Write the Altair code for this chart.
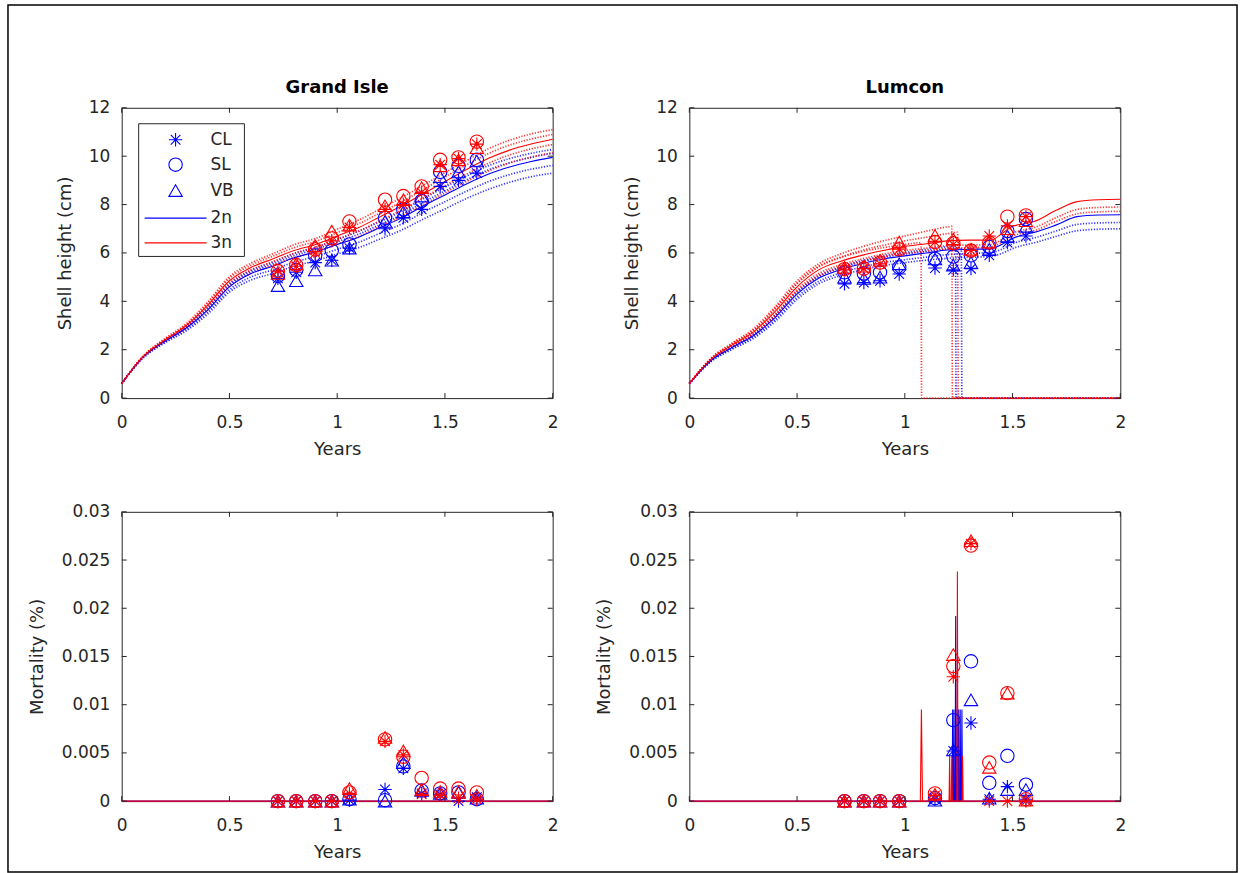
import altair as alt
import pandas as pd

BLUE, RED, AX = "#0000ff", "#ff0000", "#262626"
FONT = "DejaVu Sans"
STAR = "M-1,0L1,0M0,-1L0,1M-0.72,-0.72L0.72,0.72M-0.72,0.72L0.72,-0.72"
W, H_TOP, H_BOT = 432, 291, 290

PLOIDY = ["2n", "3n"]
MEASURES = ["CL", "SL", "VB"]
LEGEND_LABELS = ["CL", "SL", "VB", "2n", "3n"]
X_TICKS = [0, 0.5, 1, 1.5, 2]
H_TICKS = [0, 2, 4, 6, 8, 10, 12]
M_TICKS = [0, 0.005, 0.01, 0.015, 0.02, 0.025, 0.03]

# ---------------- Grand Isle model shell height ----------------
GI_X = [0.0, 0.1, 0.2, 0.3, 0.4, 0.5, 0.6, 0.7, 0.8, 0.9, 1.0, 1.1, 1.2, 1.3, 1.4, 1.5, 1.6, 1.7, 1.8, 1.9, 2.0]
GI_2N = [0.60, 1.70, 2.35, 2.90, 3.65, 4.60, 5.15, 5.45, 5.80, 6.05, 6.35, 6.65, 7.05, 7.45, 7.95, 8.40, 8.85, 9.25, 9.55, 9.78, 9.95]
GI_3N = [0.60, 1.72, 2.40, 3.00, 3.85, 4.85, 5.40, 5.75, 6.10, 6.35, 6.70, 7.05, 7.50, 7.95, 8.45, 8.95, 9.45, 9.90, 10.25, 10.50, 10.70]
GI_2N_A = [0.60, 1.66, 2.28, 2.78, 3.48, 4.38, 4.88, 5.15, 5.45, 5.68, 5.95, 6.22, 6.58, 6.95, 7.40, 7.82, 8.25, 8.62, 8.92, 9.15, 9.30]
GI_2N_B = [0.60, 1.68, 2.32, 2.84, 3.56, 4.48, 5.01, 5.30, 5.62, 5.86, 6.15, 6.44, 6.82, 7.20, 7.68, 8.12, 8.55, 8.94, 9.24, 9.46, 9.62]
GI_2N_C = [0.60, 1.72, 2.40, 2.96, 3.75, 4.72, 5.28, 5.60, 5.98, 6.24, 6.56, 6.90, 7.30, 7.72, 8.24, 8.72, 9.18, 9.60, 9.90, 10.12, 10.28]
GI_2N_D = [0.60, 1.71, 2.38, 2.93, 3.70, 4.66, 5.22, 5.53, 5.89, 6.15, 6.46, 6.78, 7.18, 7.59, 8.10, 8.56, 9.02, 9.43, 9.73, 9.95, 10.12]
GI_3N_A = [0.60, 1.69, 2.34, 2.90, 3.68, 4.62, 5.15, 5.48, 5.80, 6.04, 6.36, 6.68, 7.10, 7.52, 8.00, 8.48, 8.95, 9.38, 9.72, 9.96, 10.15]
GI_3N_B = [0.60, 1.71, 2.38, 2.96, 3.78, 4.75, 5.30, 5.64, 5.98, 6.22, 6.56, 6.90, 7.34, 7.78, 8.28, 8.78, 9.26, 9.70, 10.05, 10.30, 10.48]
GI_3N_C = [0.60, 1.75, 2.46, 3.08, 3.98, 5.02, 5.58, 5.96, 6.34, 6.60, 6.98, 7.36, 7.82, 8.30, 8.80, 9.32, 9.82, 10.30, 10.66, 10.92, 11.10]
GI_3N_D = [0.60, 1.73, 2.43, 3.04, 3.92, 4.94, 5.49, 5.86, 6.22, 6.48, 6.84, 7.21, 7.66, 8.12, 8.62, 9.14, 9.64, 10.10, 10.46, 10.71, 10.90]

# ---------------- Lumcon model shell height ----------------
LU_X = [0.0, 0.1, 0.2, 0.3, 0.4, 0.5, 0.6, 0.7, 0.8, 0.9, 1.0, 1.1, 1.2, 1.3, 1.4, 1.45, 1.5, 1.55, 1.6, 1.7, 1.8, 1.9, 2.0]
LU_2N = [0.60, 1.55, 2.10, 2.60, 3.35, 4.30, 4.95, 5.30, 5.55, 5.75, 5.88, 6.00, 6.12, 6.15, 6.17, 6.35, 6.60, 6.75, 6.85, 7.15, 7.50, 7.57, 7.58]
LU_3N = [0.60, 1.60, 2.20, 2.75, 3.60, 4.60, 5.30, 5.65, 5.90, 6.10, 6.27, 6.38, 6.50, 6.53, 6.53, 6.80, 7.10, 7.20, 7.30, 7.75, 8.12, 8.20, 8.22]
LU_2N_A = [0.60, 1.50, 2.02, 2.48, 3.18, 4.08, 4.72, 5.06, 5.30, 5.48, 5.60, 5.70, 5.78, 5.82, 5.86, 5.98, 6.18, 6.32, 6.42, 6.68, 6.92, 6.98, 7.00]
LU_2N_B = [0.60, 1.52, 2.06, 2.54, 3.26, 4.18, 4.82, 5.17, 5.42, 5.60, 5.72, 5.83, 5.93, 5.98, 6.02, 6.15, 6.38, 6.52, 6.62, 6.90, 7.18, 7.24, 7.26]
LU_3N_A = [0.60, 1.57, 2.15, 2.68, 3.50, 4.48, 5.15, 5.50, 5.75, 5.95, 6.10, 6.20, 6.30, 6.33, 6.35, 6.55, 6.82, 6.95, 7.05, 7.45, 7.80, 7.88, 7.90]
LU_3N_B = [0.60, 1.55, 2.12, 2.64, 3.42, 4.40, 5.05, 5.40, 5.65, 5.85, 5.98, 6.08, 6.18, 6.22, 6.25, 6.42, 6.70, 6.82, 6.92, 7.30, 7.62, 7.70, 7.72]
# members that die (height drops to zero)
LU_2N_D1_X = [0.0, 0.1, 0.2, 0.3, 0.4, 0.5, 0.6, 0.7, 0.8, 0.9, 1.0, 1.1, 1.2, 1.235, 1.238, 2.0]
LU_2N_D1_Y = [0.60, 1.58, 2.15, 2.66, 3.44, 4.40, 5.06, 5.42, 5.68, 5.88, 6.02, 6.14, 6.26, 6.30, 0.0, 0.0]
LU_2N_D2_X = [0.0, 0.1, 0.2, 0.3, 0.4, 0.5, 0.6, 0.7, 0.8, 0.9, 1.0, 1.1, 1.2, 1.262, 1.265, 2.0]
LU_2N_D2_Y = [0.60, 1.56, 2.12, 2.62, 3.40, 4.35, 5.00, 5.36, 5.62, 5.82, 5.95, 6.06, 6.16, 6.22, 0.0, 0.0]
LU_3N_D1_X = [0.0, 0.1, 0.2, 0.3, 0.4, 0.5, 0.6, 0.7, 0.8, 0.9, 1.0, 1.075, 1.078, 2.0]
LU_3N_D1_Y = [0.60, 1.62, 2.24, 2.80, 3.70, 4.72, 5.42, 5.80, 6.05, 6.22, 6.35, 6.42, 0.0, 0.0]
LU_3N_D2_X = [0.0, 0.1, 0.2, 0.3, 0.4, 0.5, 0.6, 0.7, 0.8, 0.9, 1.0, 1.1, 1.2, 1.218, 1.221, 2.0]
LU_3N_D2_Y = [0.60, 1.65, 2.28, 2.88, 3.80, 4.85, 5.55, 5.95, 6.25, 6.50, 6.70, 6.90, 7.08, 7.10, 0.0, 0.0]
LU_3N_D3_X = [0.0, 0.1, 0.2, 0.3, 0.4, 0.5, 0.6, 0.7, 0.8, 0.9, 1.0, 1.1, 1.2, 1.245, 1.248, 2.0]
LU_3N_D3_Y = [0.60, 1.63, 2.25, 2.82, 3.72, 4.75, 5.45, 5.82, 6.10, 6.32, 6.50, 6.65, 6.80, 6.85, 0.0, 0.0]

# ---------------- model mortality ----------------
MORT_X = [0.0, 2.0]
MORT_ZERO = [0.0, 0.0]
LU_M2N_T = [1.222, 1.228, 1.236, 1.243, 1.250, 1.257, 1.265]
LU_M2N_H = [0.0095, 0.0095, 0.0192, 0.0095, 0.0095, 0.0095, 0.0095]
LU_M3N_T = [1.077, 1.208, 1.218, 1.244, 1.268]
LU_M3N_H = [0.0095, 0.0047, 0.0047, 0.0238, 0.0047]

# ---------------- observations ----------------
GI_T = [0.725, 0.81, 0.898, 0.975, 1.057, 1.222, 1.307, 1.392, 1.478, 1.563, 1.648]
GI_H = {
    "2n": {"CL": [4.95, 5.20, 5.60, 5.70, 6.20, 7.00, 7.45, 7.80, 8.75, 9.00, 9.30],
           "SL": [5.05, 5.30, 5.90, 6.10, 6.35, 7.45, 7.80, 8.15, 9.35, 9.60, 9.85],
           "VB": [4.65, 4.85, 5.30, 5.70, 6.20, 7.30, 7.70, 8.35, 9.15, 9.35, 9.80]},
    "3n": {"CL": [5.25, 5.45, 6.00, 6.50, 7.05, 7.80, 8.00, 8.50, 9.65, 9.90, 10.50],
           "SL": [5.25, 5.50, 6.15, 6.60, 7.30, 8.20, 8.35, 8.75, 9.85, 9.95, 10.60],
           "VB": [5.15, 5.55, 6.30, 6.90, 7.15, 7.95, 8.20, 8.70, 9.60, 9.85, 10.35]},
}
GI_M = {
    "2n": {"CL": [0, 0, 0, 0, 0.0001, 0.0012, 0.0034, 0.0008, 0.0007, 0.0, 0.0004],
           "SL": [0, 0, 0, 0, 0.0002, 0.0001, 0.0036, 0.0011, 0.0008, 0.0009, 0.0002],
           "VB": [0, 0, 0, 0, 0.0002, 0.0, 0.0040, 0.0011, 0.0008, 0.0009, 0.0003]},
    "3n": {"CL": [0, 0, 0, 0, 0.0008, 0.0062, 0.0048, 0.0007, 0.0006, 0.0003, 0.0002],
           "SL": [0, 0, 0, 0, 0.0009, 0.0064, 0.0046, 0.0024, 0.0013, 0.0013, 0.0009],
           "VB": [0, 0, 0, 0, 0.0013, 0.0066, 0.0052, 0.0012, 0.0010, 0.0010, 0.0006]},
}
LU_T = [0.72, 0.81, 0.885, 0.974, 1.14, 1.225, 1.307, 1.392, 1.476, 1.562]
LU_H = {
    "2n": {"CL": [4.72, 4.78, 4.85, 5.13, 5.38, 5.30, 5.35, 5.90, 6.43, 6.70],
           "SL": [5.20, 5.15, 5.20, 5.40, 5.75, 5.85, 5.90, 6.25, 6.90, 7.40],
           "VB": [5.00, 4.95, 5.00, 5.55, 5.75, 5.50, 5.60, 6.15, 6.70, 7.10]},
    "3n": {"CL": [5.30, 5.35, 5.55, 6.15, 6.45, 6.35, 6.10, 6.70, 7.12, 7.50],
           "SL": [5.33, 5.35, 5.60, 6.15, 6.45, 6.40, 6.10, 6.43, 7.50, 7.55],
           "VB": [5.40, 5.45, 5.70, 6.45, 6.72, 6.57, 6.15, 6.45, 7.00, 7.33]},
}
LU_M = {
    "2n": {"CL": [0, 0, 0, 0, 0.0002, 0.0052, 0.0081, 0.0002, 0.0015, 0.0002],
           "SL": [0, 0, 0, 0, 0.0003, 0.0084, 0.0145, 0.0019, 0.0047, 0.0017],
           "VB": [0, 0, 0, 0, 0.0001, 0.0053, 0.0105, 0.0003, 0.0012, 0.0012]},
    "3n": {"CL": [0, 0, 0, 0, 0.0006, 0.0129, 0.0267, 0.0, 0.0, 0.0],
           "SL": [0, 0, 0, 0, 0.0008, 0.0140, 0.0265, 0.0040, 0.0112, 0.0002],
           "VB": [0, 0, 0, 0, 0.0007, 0.0152, 0.0270, 0.0035, 0.0112, 0.0001]},
}


def series_df(items):
    rows = []
    for sid, xs, ys in items:
        for i, (x, y) in enumerate(zip(xs, ys)):
            rows.append({"sid": sid, "i": i, "x": x, "y": y})
    return pd.DataFrame(rows)


def spike_items(prefix, ts, hs, half, first_half=None):
    items = []
    for k, (t, h) in enumerate(zip(ts, hs)):
        w = first_half if (k == 0 and first_half) else half
        items.append((f"{prefix}{k}", [t - w, t, t + w], [0.0, h, 0.0]))
    return items


def markers_df(times, table):
    rows = []
    for p in PLOIDY:
        for m in MEASURES:
            for t, v in zip(times, table[p][m]):
                rows.append({"x": t, "y": v, "measure": m, "ploidy": p})
    return pd.DataFrame(rows)


def panel(line_layers, markers, ydom, yticks, ytitle, ytitle_pad, H, title=None, extra=(), smooth=True):
    xs = alt.Scale(domain=[0, 2], nice=False, zero=False)
    ys = alt.Scale(domain=ydom, nice=False, zero=False)
    xax = alt.Axis(values=X_TICKS, format="~g", title="Years", labelFlush=False,
                   labelOverlap=False, titlePadding=11, labelPadding=16)
    yax = alt.Axis(values=yticks, format="~g", title=ytitle, labelOverlap=False,
                   titlePadding=ytitle_pad, labelPadding=12)

    def X(f):
        return alt.X(f"{f}:Q", scale=xs, axis=xax)

    def Y(f):
        return alt.Y(f"{f}:Q", scale=ys, axis=yax)

    interp = "monotone" if smooth else "linear"
    out = []
    for df, color, dotted in line_layers:
        if dotted:
            mk = alt.Chart(df).mark_line(color=color, strokeWidth=1.7, strokeDash=[1.2, 1.6],
                                         opacity=0.8, interpolate=interp)
        else:
            mk = alt.Chart(df).mark_line(color=color, strokeWidth=1.1, interpolate=interp)
        out.append(mk.encode(x=X("x"), y=Y("y"), detail="sid:N", order="i:Q"))

    shape = alt.Shape("measure:N", scale=alt.Scale(domain=MEASURES, range=[STAR, "circle", "triangle-up"]), legend=None)
    col = alt.Color("ploidy:N", scale=alt.Scale(domain=PLOIDY, range=[BLUE, RED]), legend=None)
    out.append(alt.Chart(markers).mark_point(filled=False, size=180, strokeWidth=1.1, opacity=1)
               .encode(x=X("x"), y=Y("y"), shape=shape, color=col))

    xt = pd.DataFrame({"v": X_TICKS})
    yt = pd.DataFrame({"v": yticks})
    out += [
        alt.Chart(xt).mark_rule(color=AX, strokeWidth=1).encode(x=X("v"), y=alt.value(H), y2=alt.value(H - 5)),
        alt.Chart(xt).mark_rule(color=AX, strokeWidth=1).encode(x=X("v"), y=alt.value(0), y2=alt.value(5)),
        alt.Chart(yt).mark_rule(color=AX, strokeWidth=1).encode(y=Y("v"), x=alt.value(0), x2=alt.value(5)),
        alt.Chart(yt).mark_rule(color=AX, strokeWidth=1).encode(y=Y("v"), x=alt.value(W), x2=alt.value(W - 5)),
    ]
    out += list(extra)
    props = dict(width=W, height=H)
    if title:
        props["title"] = alt.TitleParams(title, font=FONT, fontSize=18, fontWeight="bold", color="black",
                                         offset=2)
    return alt.layer(*out).properties(**props)


one = pd.DataFrame({"a": [0]})

# legend (top-left panel)
legend_layers = [
    alt.Chart(one).mark_rect(fill="white", stroke=AX, strokeWidth=1).encode(
        x=alt.value(17), x2=alt.value(123), y=alt.value(16), y2=alt.value(149)),
]
row_y = [32, 57, 83, 110.5, 135.5]
for lab, yy, shp in zip(LEGEND_LABELS[:3], row_y[:3], [STAR, "circle", "triangle-up"]):
    legend_layers.append(alt.Chart(one).mark_point(shape=shp, filled=False, size=180, strokeWidth=1.1,
                                                   color=BLUE, opacity=1).encode(x=alt.value(54), y=alt.value(yy)))
for lab, yy, c in zip(LEGEND_LABELS[3:], row_y[3:], [BLUE, RED]):
    legend_layers.append(alt.Chart(one).mark_rule(color=c, strokeWidth=1.2).encode(
        x=alt.value(23), x2=alt.value(85), y=alt.value(yy)))
for lab, yy in zip(LEGEND_LABELS, row_y):
    legend_layers.append(alt.Chart(pd.DataFrame({"t": [lab]})).mark_text(
        align="left", baseline="middle", font=FONT, fontSize=17, color=AX).encode(
        text="t:N", x=alt.value(89), y=alt.value(yy)))

# figure frame, positioned relative to the bottom-right panel
frame = alt.Chart(one).mark_rect(fillOpacity=0, stroke="black", strokeWidth=1.5).encode(
    x=alt.value(-683), x2=alt.value(549), y=alt.value(-508), y2=alt.value(361))

gi_lines = [
    (series_df([("a", GI_X, GI_2N_A), ("b", GI_X, GI_2N_B), ("c", GI_X, GI_2N_C), ("d", GI_X, GI_2N_D)]), BLUE, True),
    (series_df([("a", GI_X, GI_3N_A), ("b", GI_X, GI_3N_B), ("c", GI_X, GI_3N_C), ("d", GI_X, GI_3N_D)]), RED, True),
    (series_df([("m", GI_X, GI_2N)]), BLUE, False),
    (series_df([("m", GI_X, GI_3N)]), RED, False),
]
lu_lines = [
    (series_df([("a", LU_X, LU_2N_A), ("b", LU_X, LU_2N_B), ("d1", LU_2N_D1_X, LU_2N_D1_Y),
                ("d2", LU_2N_D2_X, LU_2N_D2_Y)]), BLUE, True),
    (series_df([("a", LU_X, LU_3N_A), ("b", LU_X, LU_3N_B), ("d1", LU_3N_D1_X, LU_3N_D1_Y),
                ("d2", LU_3N_D2_X, LU_3N_D2_Y), ("d3", LU_3N_D3_X, LU_3N_D3_Y)]), RED, True),
    (series_df([("m", LU_X, LU_2N)]), BLUE, False),
    (series_df([("m", LU_X, LU_3N)]), RED, False),
]
gi_mort_lines = [
    (series_df([("m", MORT_X, MORT_ZERO)]), BLUE, False),
    (series_df([("m", MORT_X, MORT_ZERO)]), RED, False),
]
lu_mort_lines = [
    (series_df([("m", MORT_X, MORT_ZERO)] + spike_items("b", LU_M2N_T, LU_M2N_H, 0.0025)), BLUE, False),
    (series_df([("m", MORT_X, MORT_ZERO)] + spike_items("r", LU_M3N_T, LU_M3N_H, 0.0025, 0.005)), RED, False),
]

tl = panel(gi_lines, markers_df(GI_T, GI_H), [0, 12], H_TICKS, "Shell height (cm)", 14, H_TOP,
           title="Grand Isle", extra=legend_layers)
tr = panel(lu_lines, markers_df(LU_T, LU_H), [0, 12], H_TICKS, "Shell height (cm)", 14, H_TOP, title="Lumcon")
bl = panel(gi_mort_lines, markers_df(GI_T, GI_M), [0, 0.03], M_TICKS, "Mortality (%)", 15, H_BOT, smooth=False)
br = panel(lu_mort_lines, markers_df(LU_T, LU_M), [0, 0.03], M_TICKS, "Mortality (%)", 15, H_BOT, smooth=False,
           extra=[frame])

chart = alt.concat(
    tl, tr, bl, br, columns=2, spacing={"row": 114, "column": 137}, bounds="flush"
).properties(
    padding={"left": 6, "top": 2, "right": 5, "bottom": 1}, background="white"
).configure_view(
    stroke=AX, strokeWidth=1
).configure_axis(
    domain=False, ticks=False, grid=False, labelFont=FONT, labelFontSize=17, labelColor=AX,
    titleFont=FONT, titleFontSize=18, titleColor=AX, titleFontWeight="normal"
)

chart.save("out.html", embed_options={"renderer": "svg", "actions": False})
